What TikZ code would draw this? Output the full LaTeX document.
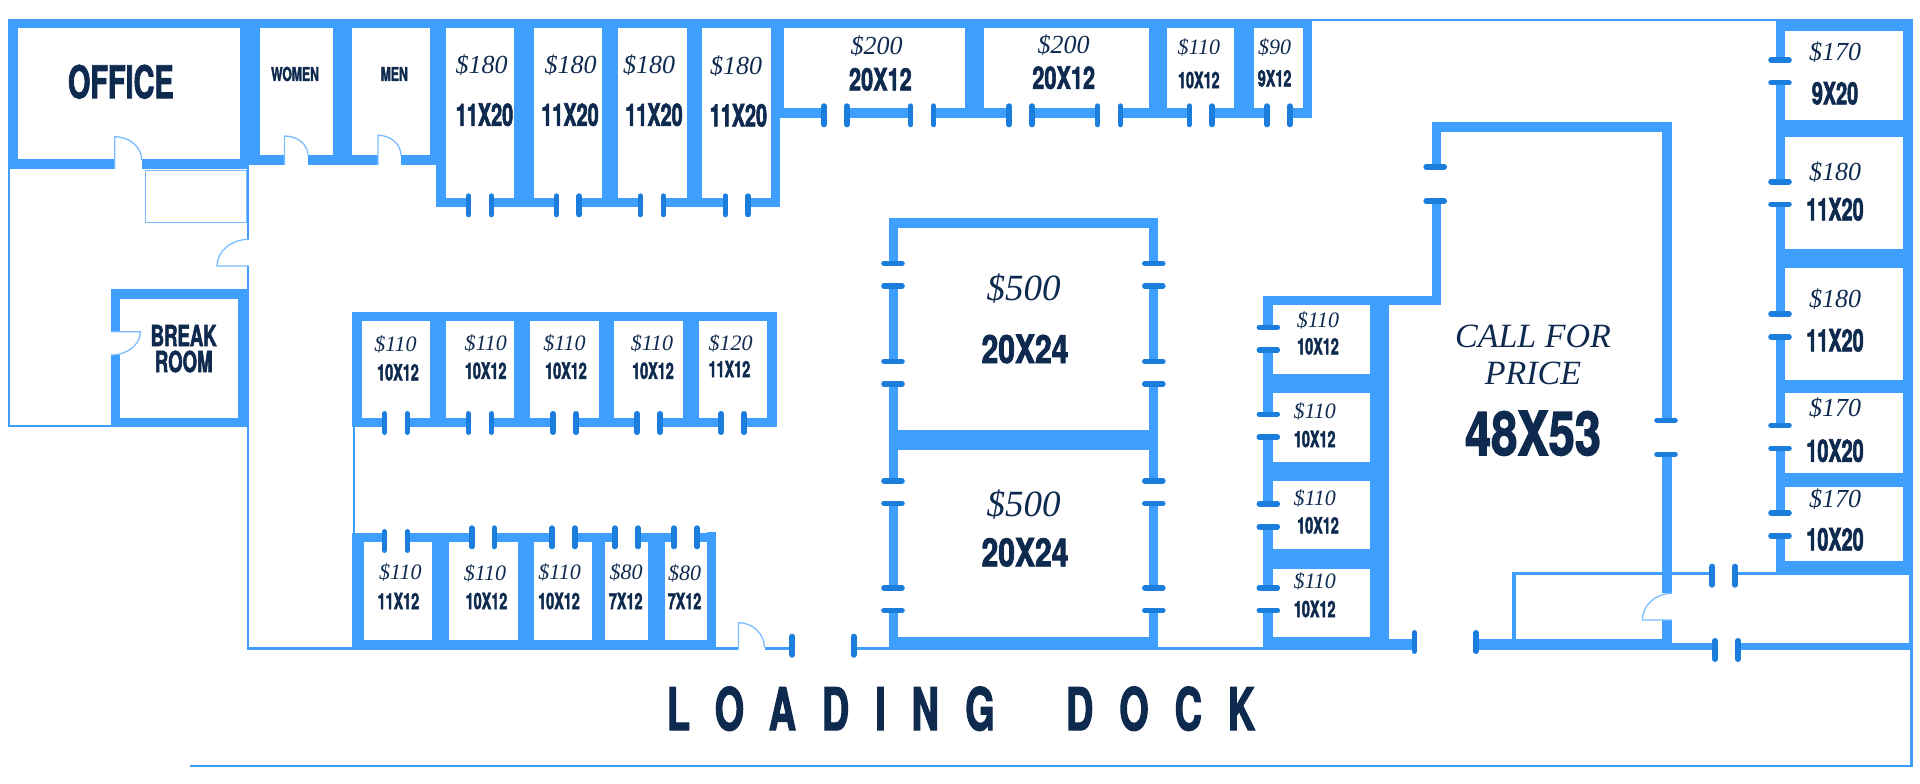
\documentclass[tikz,border=0pt]{standalone}
\usepackage{fontspec}
\newfontfamily\dimfont[FakeStretch=0.64,FakeBold=1.8]{TeX Gyre Heros}
\newfontfamily\bigdimfont[FakeStretch=0.77,FakeBold=2]{TeX Gyre Heros}
\newfontfamily\rentfont{Liberation Serif}
\definecolor{wallblue}{HTML}{3F9FFF}
\definecolor{jambblue}{HTML}{1B7DDC}
\definecolor{leafblue}{HTML}{7ABCFF}
\definecolor{inkblue}{HTML}{0F2A4F}
\tikzset{
	wall/.style={fill=wallblue},
	jamb/.style={draw=jambblue, line width=5.6pt, line cap=round},
	leaf/.style={draw=leafblue, line width=1.3pt},
	rent/.style={text=inkblue, inner sep=0pt, font=\rentfont\itshape\fontsize{#1}{#1}\selectfont},
	size/.style={text=inkblue, inner sep=0pt, font=\dimfont\bfseries\fontsize{#1}{#1}\selectfont},
	bigsize/.style={text=inkblue, inner sep=0pt, font=\bigdimfont\bfseries\fontsize{#1}{#1}\selectfont},
}

\begin{document}
\begin{tikzpicture}[x=1pt, y=-1pt]
	\useasboundingbox (0,0) rectangle (1920,784);

	% Draw the outer top and office walls
	\foreach \xa/\ya/\xb/\yb in {8/18.7/1312/28.3, 1312/18.7/1912.6/21.3, 1776/18.7/1912.6/31,
		8/18.7/17.5/169, 8/159.3/115/169, 142/159.3/249.4/169, 240/18.7/260/165,
		249/155.3/284.5/165, 308/155.3/378/165, 401/155.3/436/165, 333/18.7/352/165,
		430/18.7/446/165, 436/165/446/207.3,
		8/169/10.2/427.3, 8/425.3/111/427.3,
		247/165/249.4/239.3, 247/266/249.4/289.3, 247/427.3/249.4/649.7, 247/647.3/352/649.7}
		\fill[wall] (\xa,\ya) rectangle (\xb,\yb);

	% Draw the break room
	\foreach \xa/\ya/\xb/\yb in {111/289.3/249.4/299, 111/299/120.4/331.7, 111/355/120.4/427.3,
		237.6/299/249.4/427.3, 111/418/249.4/427.3}
		\fill[wall] (\xa,\ya) rectangle (\xb,\yb);
	\draw[leaf, line width=1pt] (145,170) rectangle (246,222.3);

	% Draw the top row of units
	\foreach \xa/\xb in {514/533.5, 602/618, 687/702}
		\fill[wall] (\xa,18.7) rectangle (\xb,207.3);
	\fill[wall] (771,18.7) rectangle (784,117.7);
	\fill[wall] (771,117.7) rectangle (780.4,207.3);
	\foreach \xa/\xb in {436/468.6, 491.4/556.3, 579.2/640.4, 663.3/725.3, 747.8/780.4}
		\fill[wall] (\xa,198) rectangle (\xb,207.3);
	\foreach \xa/\xb in {964.5/984, 1148.5/1167.3, 1234.3/1253.5, 1303/1312}
		\fill[wall] (\xa,18.7) rectangle (\xb,117.7);
	\foreach \xa/\xb in {771/824, 847/910.6, 933.5/1009, 1032/1097.5, 1120.4/1189.4, 1212.2/1267, 1289.8/1312}
		\fill[wall] (\xa,108) rectangle (\xb,117.7);

	% Draw the upper inner row
	\fill[wall] (352,311.7) rectangle (777,320.7);
	\fill[wall] (352,311.7) rectangle (362,427.3);
	\foreach \xa/\xb in {430/446, 514/530, 599/614, 683/699, 767/777}
		\fill[wall] (\xa,311.7) rectangle (\xb,427.3);
	\foreach \xa/\xb in {352/384.5, 407.3/468.6, 491.4/553, 576/637, 660/721, 744/777}
		\fill[wall] (\xa,418) rectangle (\xb,427.3);
	\fill[wall] (353,427.3) rectangle (355,533);

	% Draw the lower inner row
	\foreach \xa/\xb in {352/363.7, 432/449.4, 518.4/533.5, 592/605, 648/665}
		\fill[wall] (\xa,533) rectangle (\xb,649.7);
	\fill[wall] (707,531.7) rectangle (716.3,649.7);
	\fill[wall] (352,640) rectangle (716.3,649.7);
	\foreach \xa/\xb in {352/384.5, 407.3/471.8, 494.3/552, 574.7/615, 638/674, 697/716.3}
		\fill[wall] (\xa,533) rectangle (\xb,542.3);
	\foreach \xa/\xb in {716.3/738.4, 764.5/792.2, 853.9/888.6, 1158/1263}
		\fill[wall] (\xa,647) rectangle (\xb,649.7);

	% Draw the two big central units
	\fill[wall] (888.6,218.3) rectangle (1158,228);
	\fill[wall] (888.6,430.3) rectangle (1158,449.7);
	\fill[wall] (888.6,637.3) rectangle (1158,649.7);
	\foreach \xa/\xb in {888.6/898, 1148.5/1158}
		\foreach \ya/\yb in {218.3/263.3, 286/361.3, 384/480.7, 503.3/587.7, 610.3/649.7}
			\fill[wall] (\xa,\ya) rectangle (\xb,\yb);

	% Draw the column of small units
	\fill[wall] (1263,296) rectangle (1441,305);
	\fill[wall] (1369.8,296) rectangle (1389,649.7);
	\foreach \ya/\yb in {296/327.3, 350/414.3, 437/504, 526.7/587.7, 610.3/649.7}
		\fill[wall] (1263,\ya) rectangle (1272.6,\yb);
	\foreach \ya/\yb in {374/393.3, 461.7/481.3, 549.3/568.7, 637.3/649.7}
		\fill[wall] (1263,\ya) rectangle (1389,\yb);
	\fill[wall] (1389,639) rectangle (1414.3,649.7);

	% Draw the large unit and the rooms below it
	\fill[wall] (1431.8,122) rectangle (1671.8,131.7);
	\foreach \ya/\yb in {122/167, 201/305}
		\fill[wall] (1431.8,\ya) rectangle (1441,\yb);
	\foreach \ya/\yb in {122/420.3, 454.3/593.3, 620/649.7}
		\fill[wall] (1662.4,\ya) rectangle (1671.8,\yb);
	\fill[wall] (1475.9,639) rectangle (1671.8,649.7);
	\fill[wall] (1511.8,571.7) rectangle (1712.2,575);
	\fill[wall] (1735,571.7) rectangle (1776,575);
	\fill[wall] (1511.8,571.7) rectangle (1516,639);
	\fill[wall] (1671.8,642.7) rectangle (1715,649.7);
	\fill[wall] (1738,642.7) rectangle (1912.6,649.7);
	\fill[wall] (1908.6,561.3) rectangle (1912.6,649.7);
	\fill[wall] (1909.8,649.7) rectangle (1912.6,767.3);
	\fill[wall] (189.8,765) rectangle (1912.6,767.3);

	% Draw the right column of units
	\foreach \ya/\yb in {18.7/60, 82.7/181.7, 204.3/314, 337/425.3, 448.3/513, 535.7/575}
		\fill[wall] (1776,\ya) rectangle (1785.3,\yb);
	\fill[wall] (1903,18.7) rectangle (1912.6,575);
	\foreach \ya/\yb in {120.3/137, 249/268.3, 380/393.3, 473.3/487.3, 561.3/575}
		\fill[wall] (1776,\ya) rectangle (1912.6,\yb);

	% Draw the door jambs
	\foreach \y/\xs in {205.3/{468.6,491.4,556.3,579.2,640.4,663.3,725.3,747.8},
		115.3/{824,847,910.6,933.5,1009,1032,1097.5,1120.4,1189.4,1212.2,1267,1289.8},
		423/{384.5,407.3,468.6,491.4,553,576,637,660,721,744},
		541/{384.5,407.3}, 537.3/{471.8,494.3,552,574.7,615,638,674,697},
		645.7/{792.2,853.9}, 642/{1414.3,1475.9}, 575.7/{1712.2,1735}, 650/{1715,1738}}
		\foreach \x in \xs
			\draw[jamb] (\x,\y) ++(0,-9.2) -- ++(0,18.4);
	\foreach \x/\ys in {893/{263.3,286,361.3,384,480.7,503.3,587.7,610.3},
		1153.8/{263.3,286,361.3,384,480.7,503.3,587.7,610.3},
		1268.3/{327.3,350,414.3,437,504,526.7,587.7,610.3},
		1435.2/{167,201}, 1666/{420.3,454.3},
		1780/{60,82.7,181.7,204.3,314,337,425.3,448.3,513,535.7}}
		\foreach \y in \ys
			\draw[jamb] (\x,\y) ++(-9,0) -- ++(18,0);

	% Draw the swing doors
	\draw[leaf] (114.7,169) -- (114.7,136.7) arc[start angle=-90, end angle=0, x radius=27, y radius=23.3];
	\draw[leaf] (284.5,165) -- (284.5,136) arc[start angle=-90, end angle=0, x radius=23.5, y radius=19.3];
	\draw[leaf] (378,165) -- (378,135.3) arc[start angle=-90, end angle=0, x radius=23, y radius=20];
	\draw[leaf] (249,239.3) arc[start angle=-90, end angle=-180, x radius=32, y radius=26.7] -- (249,266);
	\draw[leaf] (111,355) arc[start angle=90, end angle=0, x radius=29.4, y radius=23.3] -- (111,331.7);
	\draw[leaf] (738.4,649) -- (738.4,622.7) arc[start angle=-90, end angle=0, x radius=26, y radius=24.6];
	\draw[leaf] (1671.8,593.3) arc[start angle=-90, end angle=-180, x radius=29.4, y radius=26.7] -- (1671.8,620);

	% Room names
	\node[size=45] (office) at (120.8,81.7) {OFFICE};
	\node[size=19] (women) at (295,74) {WOMEN};
	\node[size=19] (men) at (394.3,74) {MEN};
	\node[size=29, align=center] (breakroom) at (183.7,348.7) {BREAK\\[-3pt]ROOM};

	% Prices and sizes of the units
	\foreach \n/\x/\ya/\xb/\yb/\pr/\sz in {a/481.6/65/484.5/114.7/180/11X20, b/570.6/65/570/114.7/180/11X20,
		c/649/65/654/114.7/180/11X20, d/736/65.7/738.4/115.3/180/11X20,
		e/1835/172/1835/209.3/180/11X20, f/1835/298.7/1835/340.3/180/11X20,
		g/1835/52.3/1835/93.3/170/9X20, h/1835/408.3/1835/450.7/170/10X20, i/1835/499.3/1835/539.3/170/10X20}{
		\node[rent=26] (rent\n) at (\x,\ya) {\$\pr};
		\node[size=31] (size\n) at (\xb,\yb) {\sz};
	}
	\foreach \n/\x/\ya/\xb/\yb in {j/876.7/46.3/880.4/79.3, k/1063.7/44.7/1063.7/77.7}{
		\node[rent=26] (rent\n) at (\x,\ya) {\$200};
		\node[size=31] (size\n) at (\xb,\yb) {\addfontfeature{FakeStretch=0.7}20X12};
	}
	\foreach \n/\x/\ya/\xb/\yb/\pr/\sz in {a/395.5/344.3/398/372.3/110/10X12, b/485.7/343.3/485.7/370.7/110/10X12,
		c/564.5/343.3/566/370.7/110/10X12, d/652/343.3/653/370.7/110/10X12, e/730.6/343.3/729.4/369/120/11X12,
		f/400.4/572.3/398.4/601/110/11X12, g/485/573/486.5/601/110/10X12, h/559.6/572.3/559/601/110/10X12,
		i/626/572/625.7/601/80/7X12, j/684.5/573/684.5/601/80/7X12,
		k/1198.8/47.3/1198.8/80/110/10X12, l/1274.6/47.3/1274.6/78.3/90/9X12,
		m/1318/320/1318/346.3/110/10X12, n/1314.7/411/1314.7/439/110/10X12,
		o/1314.7/498.7/1318/525.3/110/10X12, p/1314.7/581.3/1314.7/609/110/10X12}{
		\node[rent=22] (small\n) at (\x,\ya) {\$\pr};
		\node[size=22.5] (dim\n) at (\xb,\yb) {\sz};
	}
	\foreach \n/\ya/\yb in {a/288.3/349, b/504.7/552.3}{
		\node[rent=37] (bigrent\n) at (1023.7,\ya) {\$500};
		\node[bigsize=39] (bigsize\n) at (1025,\yb) {20X24};
	}

	% The large unit and the dock
	\node[rent=34, align=center] (call) at (1533,355) {CALL FOR\\[3pt]PRICE};
	\node[bigsize=61] (largesize) at (1533,433.3) {48X53};
	\node[size=59] (dock) at (961,708.7) {\addfontfeature{LetterSpace=44}LOADING \hspace{35pt}DOCK};
\end{tikzpicture}
\end{document}
